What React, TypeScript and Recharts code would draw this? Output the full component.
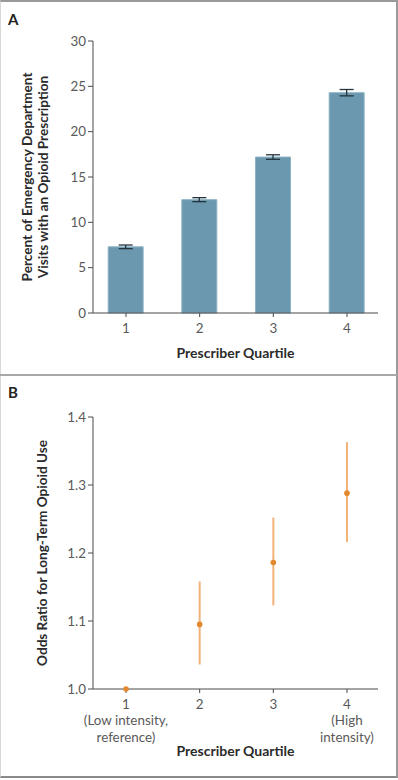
import React from "react";
import { BarChart, Bar, ErrorBar, XAxis, YAxis, ScatterChart, Scatter } from "recharts";

const quartiles = [1, 2, 3, 4];
const edVisitPercent = [7.3, 12.5, 17.2, 24.3];
const edVisitErr = [0.2, 0.22, 0.25, 0.35];
const yTicksA = [0, 5, 10, 15, 20, 25, 30];

const oddsRatio = [1.0, 1.095, 1.186, 1.288];
const ciLow = [1.0, 1.036, 1.123, 1.216];
const ciHigh = [1.0, 1.158, 1.252, 1.363];
const yTicksB = [1.0, 1.1, 1.2, 1.3, 1.4];
const catLabelsB = [["1", "(Low intensity,", "reference)"], ["2"], ["3"], ["4", "(High", "intensity)"]];

const dataA = quartiles.map((q, i) => ({ q, v: edVisitPercent[i], e: edVisitErr[i] }));
const dataB = quartiles.map((q, i) => ({
  q,
  v: oddsRatio[i],
  e: [oddsRatio[i] - ciLow[i], ciHigh[i] - oddsRatio[i]],
}));

const FONT = "Lato, 'Open Sans', sans-serif";
const TICK_COLOR = "#5a5a5a";
const AXIS_COLOR = "#4a4a4a";
const TITLE_COLOR = "#2b2b2b";
const TITLE_SIZE = 13.6;

const YLabelA = (props: any) => {
  const vb = props.viewBox;
  const cy = vb.y + vb.height / 2;
  return (
    <g>
      <text x={31.5} y={cy} transform={`rotate(-90 31.5 ${cy})`} textAnchor="middle" fontFamily={FONT} fontWeight="bold" fontSize={TITLE_SIZE} fill={TITLE_COLOR}>
        Percent of Emergency Department
      </text>
      <text x={47.5} y={cy} transform={`rotate(-90 47.5 ${cy})`} textAnchor="middle" fontFamily={FONT} fontWeight="bold" fontSize={TITLE_SIZE} fill={TITLE_COLOR}>
        Visits with an Opioid Prescription
      </text>
    </g>
  );
};

const YLabelB = (props: any) => {
  const vb = props.viewBox;
  const cy = vb.y + vb.height / 2;
  return (
    <text x={46.5} y={cy} transform={`rotate(-90 46.5 ${cy})`} textAnchor="middle" fontFamily={FONT} fontWeight="bold" fontSize={TITLE_SIZE} fill={TITLE_COLOR}>
      Odds Ratio for Long-Term Opioid Use
    </text>
  );
};

const makeXLabel = (dy: number) => (props: any) => {
  const vb = props.viewBox;
  return (
    <text x={vb.x + vb.width / 2} y={vb.y + dy} textAnchor="middle" fontFamily={FONT} fontWeight="bold" fontSize={TITLE_SIZE + 0.4} fill={TITLE_COLOR}>
      Prescriber Quartile
    </text>
  );
};

const TickB = (props: any) => {
  const { x, y, payload, index } = props;
  const lines = catLabelsB[index] || [String(payload.value)];
  return (
    <text x={x} y={y} textAnchor="middle" fontFamily={FONT} fontSize={13.4} fill={TICK_COLOR}>
      {lines.map((l: string, i: number) => (
        <tspan key={i} x={x} dy={i === 0 ? "0.71em" : 16.5}>{l}</tspan>
      ))}
    </text>
  );
};

const Dot = (props: any) => <circle cx={props.cx} cy={props.cy} r={2.8} fill="#e2892f" />;

export default function App() {
  return (
    <div style={{ position: "absolute", left: 0, top: 0, width: 398, height: 780, background: "#fff" }}>
      <div style={{ position: "absolute", left: 0, top: 0, width: 395, height: 774, borderTop: "2px solid #9a9a9a", borderLeft: "1px solid #d8d8d8", borderRight: "2px solid #9a9a9a", borderBottom: "2px solid #8a8a8a" }} />
      <div style={{ position: "absolute", left: 0, top: 374, width: 397, height: 2, background: "#a8a8a8" }} />
      <div style={{ position: "absolute", left: 0, top: 0 }}>
        <BarChart width={398} height={375} data={dataA} margin={{ top: 41, right: 20, left: 0, bottom: 0 }}>
          <text x={8} y={25} fontFamily={FONT} fontWeight="bold" fontSize={15} fill="#222">A</text>
          <XAxis
            dataKey="q"
            type="number"
            domain={[0.552, 4.421]}
            ticks={quartiles}
            height={62}
            tickSize={4}
            tickMargin={6}
            stroke={AXIS_COLOR}
            tick={{ fill: TICK_COLOR, fontSize: 13.4, fontFamily: FONT }}
            label={{ content: makeXLabel(45) }}
            allowDecimals={false}
          />
          <YAxis
            type="number"
            domain={[0, 30]}
            ticks={yTicksA}
            width={93}
            tickSize={5}
            tickMargin={2}
            stroke={AXIS_COLOR}
            tick={{ fill: TICK_COLOR, fontSize: 13.4, fontFamily: FONT }}
            label={{ content: YLabelA }}
          />
          <Bar dataKey="v" barSize={35} fill="#6b98ae" stroke="#8fb4c6" strokeWidth={1} isAnimationActive={false}>
            <ErrorBar dataKey="e" direction="y" width={7} stroke="#24343d" strokeWidth={1.3} />
          </Bar>
        </BarChart>
      </div>
      <div style={{ position: "absolute", left: 0, top: 375 }}>
        <ScatterChart width={398} height={405} margin={{ top: 42, right: 20, left: 0, bottom: 0 }}>
          <text x={8} y={23} fontFamily={FONT} fontWeight="bold" fontSize={15} fill="#222">B</text>
          <XAxis
            dataKey="q"
            type="number"
            domain={[0.552, 4.421]}
            ticks={quartiles}
            height={91}
            tickSize={4}
            tickMargin={6}
            stroke={AXIS_COLOR}
            tick={<TickB />}
            label={{ content: makeXLabel(67) }}
          />
          <YAxis
            dataKey="v"
            type="number"
            domain={[1.0, 1.4]}
            ticks={yTicksB}
            tickFormatter={(v: number) => v.toFixed(1)}
            width={93}
            tickSize={5}
            tickMargin={2}
            stroke={AXIS_COLOR}
            tick={{ fill: TICK_COLOR, fontSize: 13.4, fontFamily: FONT }}
            label={{ content: YLabelB }}
          />
          <Scatter data={dataB} shape={<Dot />} isAnimationActive={false}>
            <ErrorBar dataKey="e" direction="y" width={0} stroke="#f2b27a" strokeWidth={2} />
          </Scatter>
        </ScatterChart>
      </div>
    </div>
  );
}
